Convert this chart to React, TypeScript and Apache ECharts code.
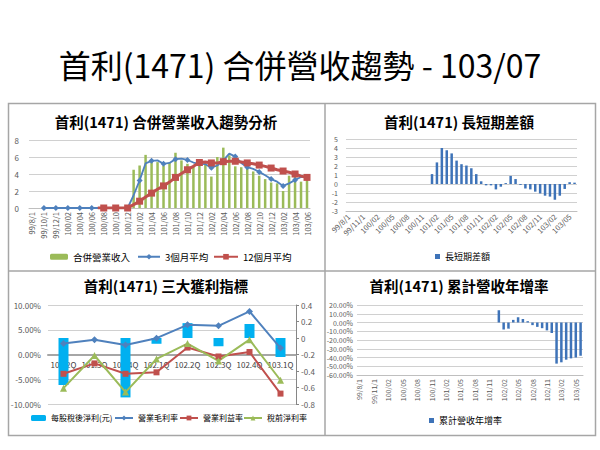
import React, { useEffect, useRef } from 'react';
import * as echarts from 'echarts';

const months = [
  '99/8/1', '99/9/1', '99/10/1', '99/11/1', '99/12/1',
  '100/01', '100/02', '100/03', '100/04', '100/05', '100/06', '100/07', '100/08', '100/09', '100/10', '100/11', '100/12',
  '101/01', '101/02', '101/03', '101/04', '101/05', '101/06', '101/07', '101/08', '101/09', '101/10', '101/11', '101/12',
  '102/01', '102/02', '102/03', '102/04', '102/05', '102/06', '102/07', '102/08', '102/09', '102/10', '102/11', '102/12',
  '103/01', '103/02', '103/03', '103/04', '103/05', '103/06',
];

const N = null;
// 合併營業收入
const revenue = [
  N, N, N, N, N, N, N, N, N, N, N, N, N, N, N, N, N,
  4.5, 5.0, 6.25, 5.5, 5.4, 5.0, 5.3, 6.5, 5.6, 5.2, 4.9, 5.5,
  5.3, 3.7, 6.0, 7.1, 6.2, 4.9, 4.8, 4.7, 4.3, 3.8, 3.4, 3.0,
  2.9, 2.0, 3.8, 4.0, 3.1, 3.8,
];
// 3個月平均
const ma3 = [
  N, N, 0, 0, 0, 0, 0, 0, 0, 0, 0, 0, 0, 0, 0, 0, 0,
  1.5, 3.25, 5.25, 5.55, 5.6, 5.2, 5.3, 5.75, 5.8, 5.65, 5.35, 5.2,
  5.15, 4.75, 5.0, 5.6, 6.4, 6.05, 5.3, 4.8, 4.6, 4.25, 3.85, 3.4,
  3.1, 2.6, 2.9, 3.3, 3.65, 3.65,
];
// 12個月平均
const ma12 = [
  N, N, N, N, N, N, N, N, N, N, N, 0, 0, 0, 0, 0, 0,
  0.4, 0.8, 1.3, 1.75, 2.2, 2.6, 3.05, 3.6, 4.05, 4.5, 4.9, 5.35,
  5.4, 5.3, 5.3, 5.45, 5.5, 5.5, 5.4, 5.3, 5.2, 5.05, 4.9, 4.7,
  4.5, 4.35, 4.2, 4.0, 3.75, 3.6,
];
// 長短期差額
const gap = [
  N, N, N, N, N, N, N, N, N, N, N, N, N, N, N, N, N,
  1.1, 2.4, 4.0, 3.75, 3.4, 2.6, 2.2, 2.05, 1.75, 1.1, 0.3, -0.15,
  -0.15, -0.6, -0.3, 0.1, 0.9, 0.55, -0.1, -0.5, -0.6, -0.85, -1.05, -1.3,
  -1.4, -1.75, -1.3, -0.55, 0.2, 0.15,
];
// 累計營收年增率 (%)
const cumYoY = [
  N, N, N, N, N, N, N, N, N, N, N, N, N, N, N, N, N,
  N, N, N, N, N, N, N, N, N, N, N, N,
  14, -8, -7, 3, 6, 4, 1.5, -3, -5, -6.5, -9, -12,
  -47, -45.5, -42.5, -41, -40, -38,
];

const quarters = ['101.2Q', '101.3Q', '101.4Q', '102.1Q', '102.2Q', '102.3Q', '102.4Q', '103.1Q'];
const eps = [-0.57, 0, -0.72, -0.07, 0.18, -0.1, 0.17, -0.23];
const grossMargin = [2.2, 3.0, 1.9, 3.3, 6.0, 5.8, 8.7, 1.3];
const opMargin = [-3.9, -1.8, -3.9, -3.6, 1.4, -0.4, 0.5, -7.9];
const pretaxMargin = [-6.8, -0.2, -7.6, -0.9, 2.2, -1.3, 3.0, -5.2];

const FONT = "'Noto Sans CJK TC', 'Noto Sans', sans-serif";
const LABEL = '#595959';
const GRID = '#D0D0D0';
const BLUE = '#4F81BD';
const RED = '#C0504D';
const GREEN = '#9BBB59';

function leg(name: string, left: number, top: number, w: number, h: number, fs: number, icon?: string): any {
  const l: any = {
    data: [name], left, top, itemWidth: w, itemHeight: h, padding: 0,
    textStyle: { fontSize: fs, color: '#000', fontFamily: FONT },
  };
  if (icon) l.icon = icon;
  return l;
}

function buildOption(): any {
  const pct = (v: number) => `${v.toFixed(2)}%`;
  const title = (text: string, x: number, y: number) => ({
    type: 'text', x, y,
    style: { text, font: `bold 14.5px ${FONT}`, fill: '#000', align: 'center', verticalAlign: 'middle' },
  });
  return {
    animation: false,
    backgroundColor: '#ffffff',
    textStyle: { fontFamily: FONT },
    graphic: [
      { type: 'rect', shape: { x: 8.5, y: 103.5, width: 587, height: 332 }, style: { fill: 'none', stroke: '#A6A6A6', lineWidth: 1.5 } },
      { type: 'line', shape: { x1: 325, y1: 103.5, x2: 325, y2: 435.5 }, style: { stroke: '#A6A6A6', lineWidth: 1.5 } },
      { type: 'line', shape: { x1: 8.5, y1: 271, x2: 595.5, y2: 271 }, style: { stroke: '#A6A6A6', lineWidth: 1.5 } },
      { type: 'text', x: 300, y: 64, style: { text: '首利(1471) 合併營收趨勢 - 103/07', font: `normal 32px ${FONT}`, fill: '#000', align: 'center', verticalAlign: 'middle' } },
      title('首利(1471) 合併營業收入趨勢分析', 166, 121),
      title('首利(1471) 長短期差額', 459, 121),
      title('首利(1471) 三大獲利指標', 166, 285),
      title('首利(1471) 累計營收年增率', 459, 285),
    ],
    grid: [
      { left: 29, top: 140, width: 281, height: 68 },
      { left: 346, top: 139, width: 231, height: 72 },
      { left: 48, top: 305, width: 248, height: 99 },
      { left: 357, top: 305, width: 226, height: 70 },
      { left: 48, top: 305, width: 248, height: 50 },
    ],
    legend: [
      leg('合併營業收入', 50, 252, 18, 6, 9.5),
      leg('3個月平均', 137, 252, 22, 7, 9.5),
      leg('12個月平均', 213, 252, 24, 7, 9.5),
      leg('長短期差額', 435, 252, 5, 5, 9, 'rect'),
      leg('每股稅後淨利(元)', 31, 414, 15, 6, 8),
      leg('營業毛利率', 114, 414, 18, 6, 8),
      leg('營業利益率', 179, 414, 18, 6, 8),
      leg('稅前淨利率', 243, 414, 18, 6, 8),
      leg('累計營收年增率', 429, 416, 5, 5, 9, 'rect'),
    ],
    xAxis: [
      {
        gridIndex: 0, type: 'category', data: months,
        axisLine: { lineStyle: { color: '#BFBFBF' } }, axisTick: { show: false },
        axisLabel: { rotate: 90, interval: 1, fontSize: 7.5, color: LABEL, margin: 4 },
      },
      {
        gridIndex: 1, type: 'category', data: months,
        axisLine: { onZero: false, lineStyle: { color: '#BFBFBF' } }, axisTick: { show: false },
        axisLabel: { rotate: 45, interval: 2, fontSize: 7.5, color: LABEL, margin: 4 },
      },
      {
        gridIndex: 2, type: 'category', data: quarters,
        axisLine: { show: false, onZero: false }, axisTick: { show: false }, axisLabel: { show: false },
      },
      {
        gridIndex: 3, type: 'category', data: months,
        axisLine: { onZero: false, lineStyle: { color: '#BFBFBF' } }, axisTick: { show: false },
        axisLabel: { rotate: 90, interval: 2, fontSize: 7, color: LABEL, margin: 4 },
      },
      {
        gridIndex: 4, type: 'category', data: quarters,
        axisLine: { onZero: false, lineStyle: { color: '#A6A6A6', width: 2 } }, axisTick: { show: false },
        axisLabel: { interval: 0, fontSize: 8, color: '#404040', margin: 5 },
      },
    ],
    yAxis: [
      {
        gridIndex: 0, type: 'value', min: 0, max: 8, interval: 2,
        axisLine: { show: false }, axisTick: { show: false },
        axisLabel: { fontSize: 8, color: LABEL, margin: 10 },
        splitLine: { lineStyle: { color: GRID } },
      },
      {
        gridIndex: 1, type: 'value', min: -3, max: 5, interval: 1,
        axisLine: { show: false }, axisTick: { show: false },
        axisLabel: { fontSize: 7, color: LABEL, margin: 8 },
        splitLine: { lineStyle: { color: GRID } },
      },
      {
        gridIndex: 2, type: 'value', min: -10, max: 10, interval: 5,
        axisLine: { show: false }, axisTick: { show: false },
        axisLabel: { fontSize: 8, color: LABEL, margin: 7, formatter: pct },
        splitLine: { lineStyle: { color: GRID } },
      },
      {
        gridIndex: 2, type: 'value', position: 'right', min: -0.8, max: 0.4, interval: 0.2,
        axisLine: { show: true, lineStyle: { color: '#868686' } },
        axisTick: { show: true, length: 3, lineStyle: { color: '#868686' } },
        axisLabel: { fontSize: 8, color: LABEL, margin: 5, formatter: (v: number) => String(Math.round(v * 10) / 10) },
        splitLine: { show: false },
      },
      {
        gridIndex: 3, type: 'value', min: -60, max: 20, interval: 10,
        axisLine: { show: false }, axisTick: { show: false },
        axisLabel: { fontSize: 7, color: LABEL, margin: 4, formatter: pct },
        splitLine: { lineStyle: { color: GRID } },
      },
      { gridIndex: 4, type: 'value', min: 0, max: 1, show: false },
    ],
    series: [
      { type: 'bar', name: '合併營業收入', xAxisIndex: 0, yAxisIndex: 0, data: revenue, barWidth: 2.5, itemStyle: { color: GREEN } },
      {
        type: 'line', name: '3個月平均', xAxisIndex: 0, yAxisIndex: 0, data: ma3,
        symbol: 'diamond', symbolSize: 6, lineStyle: { width: 1.8, color: BLUE }, itemStyle: { color: BLUE },
      },
      {
        type: 'line', name: '12個月平均', xAxisIndex: 0, yAxisIndex: 0, data: ma12,
        symbol: 'rect', symbolSize: 7, lineStyle: { width: 3, color: RED }, itemStyle: { color: RED },
      },
      { type: 'bar', name: '長短期差額', xAxisIndex: 1, yAxisIndex: 1, data: gap, barWidth: 2.5, itemStyle: { color: '#3E73B8' } },
      { type: 'bar', name: '每股稅後淨利(元)', xAxisIndex: 2, yAxisIndex: 3, data: eps, barWidth: 10, itemStyle: { color: '#00B0F0' } },
      {
        type: 'line', name: '營業毛利率', xAxisIndex: 2, yAxisIndex: 2, data: grossMargin,
        symbol: 'diamond', symbolSize: 7, lineStyle: { width: 2, color: BLUE }, itemStyle: { color: BLUE },
      },
      {
        type: 'line', name: '營業利益率', xAxisIndex: 2, yAxisIndex: 2, data: opMargin,
        symbol: 'rect', symbolSize: 6, lineStyle: { width: 2, color: RED }, itemStyle: { color: RED },
      },
      {
        type: 'line', name: '稅前淨利率', xAxisIndex: 2, yAxisIndex: 2, data: pretaxMargin,
        symbol: 'triangle', symbolSize: 7, lineStyle: { width: 2, color: GREEN }, itemStyle: { color: GREEN },
      },
      { type: 'bar', name: '累計營收年增率', xAxisIndex: 3, yAxisIndex: 4, data: cumYoY, barWidth: 2.5, itemStyle: { color: '#3E73B8' } },
    ],
  };
}

export default function App() {
  const ref = useRef<HTMLDivElement>(null);
  useEffect(() => {
    if (!ref.current) return;
    const chart = echarts.init(ref.current, null, { renderer: 'svg' });
    chart.setOption(buildOption());
    return () => chart.dispose();
  }, []);
  return (
    <div
      ref={ref}
      style={{ position: 'absolute', left: 0, top: 0, width: 600, height: 450, background: '#fff' }}
    />
  );
}
